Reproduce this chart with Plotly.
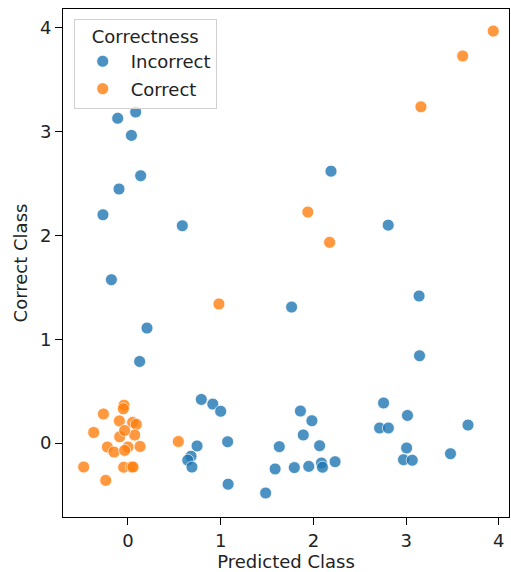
import plotly.graph_objects as go

# Incorrect predictions (jittered)
incorrect_x = [0.083, -0.111, 0.037, 0.137, 2.19, -0.097, -0.27, 0.586, 2.807, -0.179,
               1.765, 3.14, 0.205, 0.126, 3.145,
               0.791, 0.915, 1.0, 1.075, 0.745, 0.68, 0.645, 0.69, 1.08, 1.485,
               1.587, 1.632, 1.794, 1.86, 1.984, 1.891, 2.067, 1.95, 2.087, 2.098,
               2.234, 2.757, 3.015, 2.714, 2.809, 3.668, 3.006, 2.972, 3.066, 3.479]
incorrect_y = [3.19, 3.13, 2.965, 2.576, 2.62, 2.448, 2.20, 2.094, 2.10, 1.574,
               1.31, 1.417, 1.108, 0.786, 0.841,
               0.42, 0.375, 0.306, 0.012, -0.028, -0.127, -0.165, -0.232, -0.397, -0.482,
               -0.25, -0.035, -0.237, 0.308, 0.215, 0.078, -0.026, -0.225, -0.193, -0.233,
               -0.18, 0.386, 0.266, 0.145, 0.145, 0.173, -0.048, -0.161, -0.166, -0.103]

# Correct predictions (jittered)
correct_x = [3.94, 3.61, 3.16, 1.94, 2.175, 0.981, 0.543,
             -0.043, -0.05, -0.265, -0.093, 0.05, 0.09, -0.37, -0.089, 0.072, -0.036,
             -0.222, -0.151, 0.0, -0.036, 0.13, -0.478, -0.046, 0.037, 0.055, -0.24]
correct_y = [3.97, 3.73, 3.24, 2.226, 1.934, 1.34, 0.015,
             0.365, 0.33, 0.28, 0.213, 0.199, 0.18, 0.102, 0.06, 0.077, 0.121,
             -0.039, -0.087, -0.039, -0.071, -0.033, -0.231, -0.233, -0.231, -0.231, -0.36]

x_ticks = [0, 1, 2, 3, 4]
y_ticks = [0, 1, 2, 3, 4]

FONT = "DejaVu Sans"
FS = 18
fig = go.Figure()
for name, xs, ys, col, grp in [("Incorrect", incorrect_x, incorrect_y, "#1f77b4", "a"),
                               ("Correct", correct_x, correct_y, "#ff7f0e", "b")]:
    fig.add_trace(go.Scatter(
        x=xs, y=ys, mode="markers", name=name, legendgroup=grp,
        marker=dict(size=12, color=col, opacity=0.8,
                    line=dict(color="white", width=0.8)),
    ))

axis_common = dict(showgrid=False, zeroline=False, showline=True, linecolor="black",
                   linewidth=1, mirror=True, ticks="outside", ticklen=7,
                   tickcolor="black", tickwidth=1, automargin=False,
                   tickfont=dict(family=FONT, size=FS, color="#222"))
fig.update_layout(
    width=511, height=572,
    margin=dict(l=63, r=2, t=9, b=55),
    plot_bgcolor="white", paper_bgcolor="white",
    font=dict(family=FONT, size=FS, color="#222"),
    xaxis=dict(range=[-0.701, 4.11], tickvals=x_ticks,
               title=dict(text="Predicted Class", font=dict(family=FONT, size=FS), standoff=3),
               **axis_common),
    yaxis=dict(range=[-0.713, 4.183], tickvals=y_ticks,
               title=dict(text="Correct Class", font=dict(family=FONT, size=FS), standoff=7),
               **axis_common),
    legend=dict(x=0.024, y=0.981, xanchor="left", yanchor="top",
                bgcolor="rgba(255,255,255,0.8)", bordercolor="#d0d0d0", borderwidth=1,
                title=dict(text="Correctness", font=dict(family=FONT, size=FS), side="top center"),
                font=dict(family=FONT, size=FS), tracegroupgap=1, itemwidth=46),
    showlegend=True,
)
fig.write_html("out.html", post_script="document.body.style.margin='0';",
               config={"displayModeBar": False})
